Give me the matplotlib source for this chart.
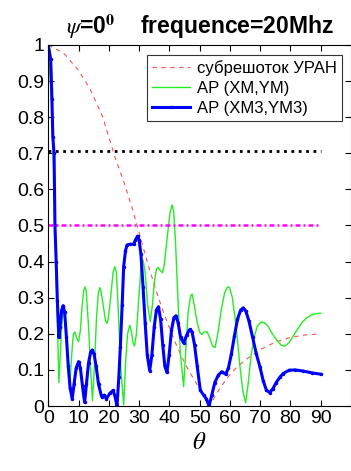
import numpy as np
import matplotlib.pyplot as plt

plt.rcParams['font.family'] = ['Liberation Sans', 'DejaVu Sans']
plt.rcParams['mathtext.fontset'] = 'stix'

# subarray pattern (red dashed)
th_uran = [0, 5, 10, 14, 18, 22, 25, 28, 30, 33, 36, 38, 42, 45, 48, 51, 53.3,
           56, 59, 62, 65, 70, 75, 80, 85, 90]
ap_uran = [1.0, 0.978, 0.93, 0.875, 0.80, 0.69, 0.62, 0.54, 0.48, 0.39, 0.31, 0.26,
           0.175, 0.12, 0.075, 0.035, 0.0, 0.04, 0.077, 0.105, 0.127, 0.156, 0.177,
           0.19, 0.197, 0.2]

# AP (XM,YM) green
th_xm = [0, 1.0, 2.0, 2.8, 3.5, 4.3, 4.8, 5.2, 5.8, 6.5, 7.1, 7.8, 8.3, 8.8, 9.3,
         10.0, 10.6, 11.1, 11.7, 12.1, 12.5, 13.3, 14.0, 14.6, 15.3, 15.9, 16.5,
         17.0, 17.5, 18.3, 18.9, 19.4, 19.9, 20.7, 21.4, 22.0, 22.5, 23.1, 23.9,
         24.9, 25.6, 26.2, 26.9, 27.5, 28.0, 28.5, 29.1, 29.9, 30.6, 31.3, 32.0,
         32.8, 33.7, 34.4, 35.1, 35.8, 36.3, 37.0, 37.7, 38.3, 39.2, 40.2, 40.9,
         41.4, 42.0, 42.8, 43.6, 44.7, 45.4, 46.2, 47.0, 47.5, 48.2, 49.2, 50.0,
         50.7, 51.5, 52.4, 53.3, 54.3, 55.1, 56.0, 57.2, 58.3, 59.2, 59.9, 60.8,
         61.6, 62.4, 63.3, 64.3, 65.2, 66.0, 67.0, 68.0, 69.0, 70.2, 71.2, 72.5,
         74.0, 75.5, 77.0, 78.2, 79.5, 81.0, 82.5, 84.0, 85.5, 87.0, 88.5, 90.0]
ap_xm = [1.0, 0.85, 0.6, 0.3, 0.065, 0.2, 0.26, 0.265, 0.2, 0.1, 0.058, 0.15, 0.2,
         0.205, 0.19, 0.178, 0.21, 0.27, 0.32, 0.33, 0.32, 0.22, 0.1, 0.015, 0.12,
         0.24, 0.31, 0.328, 0.315, 0.27, 0.235, 0.229, 0.245, 0.31, 0.37, 0.386,
         0.37, 0.27, 0.11, 0.003, 0.13, 0.2, 0.224, 0.205, 0.175, 0.166, 0.2, 0.3,
         0.38, 0.404, 0.37, 0.28, 0.234, 0.28, 0.35, 0.38, 0.384, 0.375, 0.369, 0.39,
         0.46, 0.535, 0.557, 0.54, 0.46, 0.3, 0.15, 0.054, 0.15, 0.26, 0.305, 0.31,
         0.28, 0.23, 0.205, 0.198, 0.205, 0.206, 0.19, 0.165, 0.162, 0.2, 0.27,
         0.315, 0.33, 0.328, 0.3, 0.25, 0.19, 0.11, 0.04, 0.009, 0.06, 0.14, 0.19,
         0.22, 0.232, 0.232, 0.222, 0.2, 0.182, 0.168, 0.166, 0.175, 0.195, 0.215,
         0.233, 0.245, 0.252, 0.256, 0.257]

# AP (XM3,YM3) blue
th_xm3 = [0, 0.8, 1.2, 1.5, 1.9, 2.2, 2.6, 3.0, 3.5, 3.9, 4.4, 4.9, 5.4, 6.0, 6.6,
          7.2, 7.9, 8.5, 9.2, 10.0, 10.6, 11.3, 12.0, 12.6, 13.3, 14.0, 14.5, 15.1,
          15.8, 16.6, 17.6, 18.5, 19.2, 20.3, 21.4, 22.1, 22.7, 23.3, 23.8, 24.4,
          24.9, 25.5, 26.0, 27.0, 28.2, 28.8, 29.5, 30.0, 30.6, 31.3, 32.0, 32.7,
          33.5, 34.2, 35.0, 35.7, 36.4, 37.1, 37.8, 38.5, 39.2, 39.9, 40.7, 41.5,
          42.2, 42.9, 43.7, 44.7, 45.8, 46.5, 46.9, 47.5, 48.3, 49.2, 50.2, 51.3,
          52.2, 53.1, 54.0, 55.0, 56.2, 57.3, 58.6, 59.5, 60.5, 61.5, 62.5, 63.5,
          64.4, 65.3, 66.3, 67.5, 68.7, 69.9, 71.0, 72.0, 73.1, 74.2, 75.3, 76.5,
          77.6, 79.5, 81.5, 84.0, 87.0, 90.0]
ap_xm3 = [1.0, 0.96, 0.85, 0.745, 0.70, 0.5, 0.40, 0.29, 0.19, 0.22, 0.265, 0.278,
          0.26, 0.19, 0.11, 0.05, 0.02, 0.06, 0.105, 0.123, 0.105, 0.055, 0.01, 0.06,
          0.12, 0.15, 0.155, 0.145, 0.11, 0.06, 0.026, 0.03, 0.02, 0.035, 0.043,
          0.025, 0.0, 0.08, 0.164, 0.28, 0.386, 0.43, 0.446, 0.448, 0.448, 0.46,
          0.471, 0.46, 0.42, 0.33, 0.23, 0.14, 0.098, 0.14, 0.22, 0.265, 0.275, 0.24,
          0.17, 0.11, 0.093, 0.14, 0.21, 0.245, 0.25, 0.23, 0.19, 0.175, 0.198, 0.21,
          0.212, 0.205, 0.17, 0.11, 0.044, 0.03, 0.02, 0.0, 0.03, 0.065, 0.086, 0.095,
          0.088, 0.105, 0.145, 0.195, 0.24, 0.265, 0.272, 0.262, 0.235, 0.19, 0.145,
          0.109, 0.07, 0.045, 0.037, 0.048, 0.065, 0.08, 0.09, 0.099, 0.1, 0.097,
          0.092, 0.088]

level_3db = 0.707
level_half = 0.5
level_span = [0, 90]

fig = plt.figure(figsize=(3.51, 4.71), dpi=100)
ax = fig.add_axes([0.1376, 0.138, 0.8624, 0.7665])

ax.plot(th_uran, ap_uran, '--', color='#ff5050', lw=0.8, dashes=(4, 4),
        label='субрешоток УРАН')
ax.plot(th_xm, ap_xm, '-', color='#22ee22', lw=1.0, label='AP (XM,YM)')
ax.plot(th_xm3, ap_xm3, '.-', color='#0000ff', lw=2.2, ms=3, label='AP (XM3,YM3)')
ax.plot(level_span, [level_3db] * 2, ':', color='black', lw=2)
ax.plot(level_span, [level_half] * 2, color='#ff00ff', lw=1.8, dashes=(2, 1.2, 0.8, 1.2))

ax.set_xlim(0, 100)
ax.set_ylim(0, 1)
ax.set_xticks(np.arange(0, 91, 10))
ax.set_yticks(np.arange(0, 1.01, 0.1))
ax.set_yticklabels(['0', '0.1', '0.2', '0.3', '0.4', '0.5', '0.6', '0.7', '0.8', '0.9', '1'])
ax.tick_params(direction='in', top=True, right=True, labelsize=14, length=4, pad=3)
ax.set_xlabel(r'$\theta$', fontsize=18, labelpad=2)
ax.set_title(r'$\psi$=0$^{\mathbf{0}}$    frequence=20Mhz', fontsize=16.5,
             fontweight='bold', pad=8)

leg = ax.legend(loc='upper right', bbox_to_anchor=(0.97, 0.972), fontsize=12,
                frameon=True, fancybox=False, edgecolor='#333333', framealpha=1,
                borderaxespad=0, handlelength=2.3, handletextpad=0.4,
                labelspacing=0.3, borderpad=0.3)
leg.get_frame().set_linewidth(0.8)

plt.savefig('out.png')
